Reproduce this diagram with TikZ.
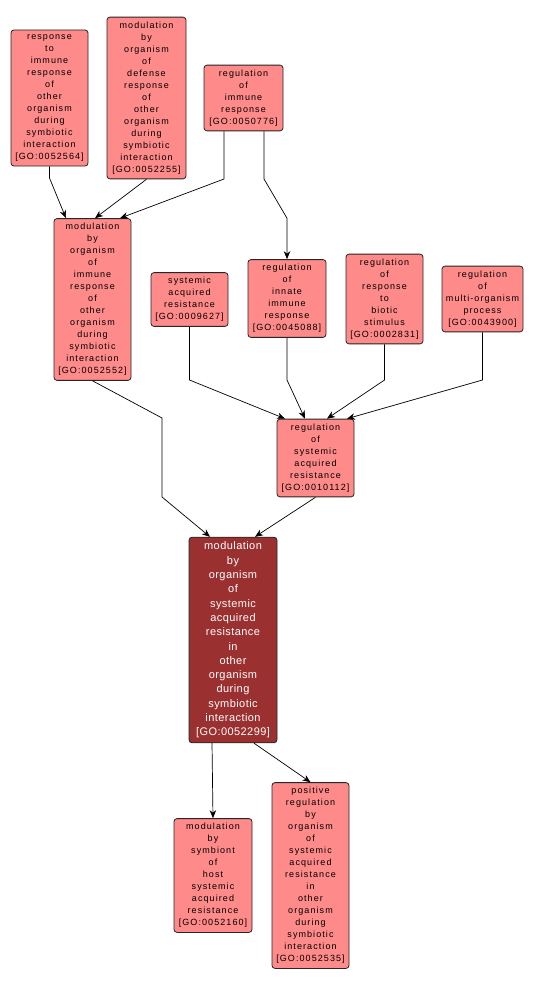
\documentclass[tikz,border=0pt]{standalone}
\usepackage{fontspec}
\usepackage{tikz}
\usetikzlibrary{arrows.meta}
\newfontfamily\gofont[LetterSpace=12]{Liberation Sans}
\newfontfamily\gofontdark[LetterSpace=4]{Liberation Sans}
\definecolor{golight}{RGB}{255,138,138}
\definecolor{godark}{RGB}{155,48,48}

\begin{document}
\begin{tikzpicture}[x=1pt,y=-1pt,
  term/.style={draw=black!85,line width=0.8pt,rounded corners=3pt,fill=golight,
    align=center,inner xsep=1pt,inner ysep=4.7pt,
    font=\gofont\fontsize{9}{12}\selectfont},
  focus/.style={term,fill=godark,text=white,
    font=\gofontdark\fontsize{11}{14.3}\selectfont},
  link/.style={line width=0.7pt,-{Stealth[length=8pt,width=6.5pt,inset=2.5pt]}}]

\useasboundingbox (0,0) rectangle (534,987);

% top row
\node[term,minimum width=77] (gsymb) at (49.5,98) {response\\to\\immune\\response\\of\\other\\organism\\during\\symbiotic\\interaction\\{[GO:0052564]}};
\node[term,minimum width=79] (gdef) at (146.5,98) {modulation\\by\\organism\\of\\defense\\response\\of\\other\\organism\\during\\symbiotic\\interaction\\{[GO:0052255]}};
\node[term,minimum width=79] (gimm) at (243.5,98) {regulation\\of\\immune\\response\\{[GO:0050776]}};

% middle row
\node[term,minimum width=77] (gmodimm) at (92.5,299.5) {modulation\\by\\organism\\of\\immune\\response\\of\\other\\organism\\during\\symbiotic\\interaction\\{[GO:0052552]}};
\node[term,minimum width=77] (gsar) at (189.5,299.5) {systemic\\acquired\\resistance\\{[GO:0009627]}};
\node[term,minimum width=78] (ginn) at (287,298.5) {regulation\\of\\innate\\immune\\response\\{[GO:0045088]}};
\node[term,minimum width=77] (gbio) at (384.5,299) {regulation\\of\\response\\to\\biotic\\stimulus\\{[GO:0002831]}};
\node[term,minimum width=81] (gmulti) at (482.5,299) {regulation\\of\\multi-organism\\process\\{[GO:0043900]}};

\node[term,minimum width=77] (gregsar) at (315.5,458) {regulation\\of\\systemic\\acquired\\resistance\\{[GO:0010112]}};

% the term itself
\node[focus,minimum width=88] (gmain) at (233,640) {modulation\\by\\organism\\of\\systemic\\acquired\\resistance\\in\\other\\organism\\during\\symbiotic\\interaction\\{[GO:0052299]}};

% children
\node[term,minimum width=78] (ghost) at (213,875.5) {modulation\\by\\symbiont\\of\\host\\systemic\\acquired\\resistance\\{[GO:0052160]}};
\node[term,minimum width=77] (gpos) at (310.5,875.5) {positive\\regulation\\by\\organism\\of\\systemic\\acquired\\resistance\\in\\other\\organism\\during\\symbiotic\\interaction\\{[GO:0052535]}};

% bend points
\coordinate (bendtop) at (0,179);
\coordinate (bendmid) at (0,380);
\coordinate (dj1) at (162,418);
\coordinate (dj2) at (162,497);

\draw[link] (gsymb.south) -- (gsymb.south |- 0,178) -- ([xshift=-26.5]gmodimm.north);
\draw[link] (gdef.south) -- ([xshift=2.5]gmodimm.north);
\draw[link] ([xshift=-19.5]gimm.south) -- ([xshift=-19.5]gimm.south |- bendtop) -- ([xshift=27.5]gmodimm.north);
\draw[link] ([xshift=20.5]gimm.south) -- ([xshift=20.5]gimm.south |- bendtop) -- ([yshift=41]ginn.north) -- (ginn.north);

\draw[link] (gsar.south) -- (gsar.south |- bendmid) -- ([xshift=-30.5]gregsar.north);
\draw[link] (ginn.south) -- (ginn.south |- bendmid) -- ([xshift=-10.5]gregsar.north);
\draw[link] (gbio.south) -- (gbio.south |- bendmid) -- ([xshift=11.5]gregsar.north);
\draw[link] (gmulti.south) -- (gmulti.south |- bendmid) -- ([xshift=31.5]gregsar.north);

\draw[link] (gmodimm.south) -- (dj1) -- (dj2) -- ([xshift=-23]gmain.north);
\draw[link] (gregsar.south) -- ([xshift=22]gmain.north);

\draw[link] ([xshift=-21]gmain.south) -- (ghost.north);
\draw[link] ([xshift=21]gmain.south) -- (gpos.north);
\end{tikzpicture}
\end{document}
